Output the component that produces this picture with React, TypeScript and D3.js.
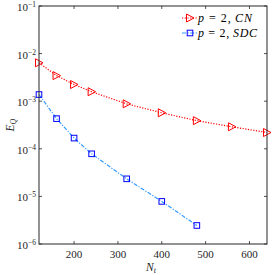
import { useEffect, useRef } from "react";
import * as d3 from "d3";

const nt = [120, 160, 200, 240, 320, 400, 480, 560, 640];
const errCN = [6.4e-3, 3.45e-3, 2.24e-3, 1.58e-3, 8.8e-4, 5.7e-4, 3.9e-4, 2.9e-4, 2.2e-4];
const ntSDC = [120, 160, 200, 240, 320, 400, 480];
const errSDC = [1.38e-3, 4.3e-4, 1.68e-4, 7.85e-5, 2.34e-5, 7.85e-6, 2.45e-6];
const xTicks = [200, 300, 400, 500, 600];
const yExps = [-6, -5, -4, -3, -2, -1];

export default function App() {
  const ref = useRef<SVGSVGElement>(null);

  useEffect(() => {
    if (!ref.current) return;
    const w = 273;
    const h = 275;
    const m = { top: 6, right: 6, bottom: 31, left: 39 };
    const font = "'Liberation Serif', 'Times New Roman', serif";

    const svg = d3.select(ref.current);
    svg.selectAll("*").remove();
    svg.attr("width", w).attr("height", h);

    const x = d3.scaleLinear().domain([120, 640]).range([m.left, w - m.right]);
    const y = d3.scaleLog().domain([1e-6, 1e-1]).range([h - m.bottom, m.top]);

    svg.append("rect").attr("width", w).attr("height", h).attr("fill", "#fff");

    // ticks, inward on all four sides
    const tk = 3;
    const g = svg.append("g").attr("stroke", "#262626").attr("stroke-width", 0.8);
    xTicks.forEach((t) => {
      g.append("line").attr("x1", x(t)).attr("x2", x(t)).attr("y1", h - m.bottom).attr("y2", h - m.bottom - tk);
      g.append("line").attr("x1", x(t)).attr("x2", x(t)).attr("y1", m.top).attr("y2", m.top + tk);
    });
    yExps.forEach((e) => {
      const v = Math.pow(10, e);
      g.append("line").attr("x1", m.left).attr("x2", m.left + tk).attr("y1", y(v)).attr("y2", y(v));
      g.append("line").attr("x1", w - m.right).attr("x2", w - m.right - tk).attr("y1", y(v)).attr("y2", y(v));
    });

    xTicks.forEach((t) => {
      svg
        .append("text")
        .attr("x", x(t))
        .attr("y", h - m.bottom + 14)
        .attr("text-anchor", "middle")
        .attr("font-family", font)
        .attr("font-size", 11)
        .attr("fill", "#262626")
        .text(t);
    });

    yExps.forEach((e) => {
      const t = svg
        .append("text")
        .attr("x", m.left - 3)
        .attr("y", y(Math.pow(10, e)) + 5)
        .attr("text-anchor", "end")
        .attr("font-family", font)
        .attr("font-size", 11)
        .attr("fill", "#262626");
      t.append("tspan").text("10");
      t.append("tspan").attr("font-size", 7.5).attr("dy", -4).text(String(e).replace("-", "\u2212"));
    });

    // axis labels
    const xl = svg
      .append("text")
      .attr("x", (m.left + w - m.right) / 2 - 2)
      .attr("y", h - 4)
      .attr("text-anchor", "middle")
      .attr("font-family", font)
      .attr("font-size", 11.5)
      .attr("fill", "#262626");
    xl.append("tspan").attr("font-style", "italic").text("N");
    xl.append("tspan").attr("font-style", "italic").attr("font-size", 8).attr("dy", 2).text("t");

    const yl = svg
      .append("text")
      .attr("transform", `translate(14,${(m.top + h - m.bottom) / 2}) rotate(-90)`)
      .attr("text-anchor", "middle")
      .attr("font-family", font)
      .attr("font-size", 11.5)
      .attr("fill", "#262626");
    yl.append("tspan").attr("font-style", "italic").text("E");
    yl.append("tspan").attr("font-style", "italic").attr("font-size", 8).attr("dy", 2).text("Q");

    const line = d3
      .line<[number, number]>()
      .x((d) => x(d[0]))
      .y((d) => y(d[1]));

    const cn: [number, number][] = nt.map((v, i) => [v, errCN[i]]);
    const sdc: [number, number][] = ntSDC.map((v, i) => [v, errSDC[i]]);

    const plot = svg.append("g");
    plot
      .append("path")
      .attr("d", line(cn)!)
      .attr("fill", "none")
      .attr("stroke", "#ff0000")
      .attr("stroke-width", 1.2)
      .attr("stroke-dasharray", "1.2,1.5");
    plot
      .append("path")
      .attr("d", line(sdc)!)
      .attr("fill", "none")
      .attr("stroke", "#3399ff")
      .attr("stroke-width", 1.2)
      .attr("stroke-dasharray", "4,1.5,1.2,1.5");

    const tri = (cx: number, cy: number) => `M${cx - 3.5},${cy - 4}L${cx + 4},${cy}L${cx - 3.5},${cy + 4}Z`;
    cn.forEach((d) => {
      plot.append("path").attr("d", tri(x(d[0]), y(d[1]))).attr("fill", "none").attr("stroke", "#ff0000").attr("stroke-width", 1);
    });
    sdc.forEach((d) => {
      plot
        .append("rect")
        .attr("x", x(d[0]) - 2.8)
        .attr("y", y(d[1]) - 2.8)
        .attr("width", 5.6)
        .attr("height", 5.6)
        .attr("fill", "none")
        .attr("stroke", "#0000ff")
        .attr("stroke-width", 1);
    });

    // box
    svg
      .append("rect")
      .attr("x", m.left)
      .attr("y", m.top)
      .attr("width", w - m.left - m.right)
      .attr("height", h - m.top - m.bottom)
      .attr("fill", "none")
      .attr("stroke", "#262626")
      .attr("stroke-width", 1);

    // legend
    const leg = [
      { label: "CN", color: "#ff0000", dash: "1.2,1.5", mk: "tri", y: 18, len: 54 },
      { label: "SDC", color: "#3399ff", dash: "4,1.5,1.2,1.5", mk: "sq", y: 33, len: 59 },
    ];
    leg.forEach((l) => {
      svg
        .append("line")
        .attr("x1", 182)
        .attr("x2", 197)
        .attr("y1", l.y)
        .attr("y2", l.y)
        .attr("stroke", l.color)
        .attr("stroke-width", 1.2)
        .attr("stroke-dasharray", l.dash);
      if (l.mk === "tri") {
        svg.append("path").attr("d", tri(190, l.y)).attr("fill", "none").attr("stroke", "#ff0000").attr("stroke-width", 1);
      } else {
        svg
          .append("rect")
          .attr("x", 190 - 2.8)
          .attr("y", l.y - 2.8)
          .attr("width", 5.6)
          .attr("height", 5.6)
          .attr("fill", "none")
          .attr("stroke", "#0000ff")
          .attr("stroke-width", 1);
      }
      const t = svg
        .append("text")
        .attr("x", 198)
        .attr("y", l.y + 4)
        .attr("font-family", font)
        .attr("font-size", 12)
        .attr("fill", "#000")
        .attr("textLength", l.len)
        .attr("lengthAdjust", "spacing");
      t.append("tspan").attr("font-style", "italic").text("p");
      t.append("tspan").text(" = 2,\u2009");
      t.append("tspan").attr("font-style", "italic").text(l.label);
    });
  }, []);

  return (
    <div style={{ position: "absolute", left: 0, top: 0 }}>
      <svg ref={ref} style={{ display: "block" }} />
    </div>
  );
}
